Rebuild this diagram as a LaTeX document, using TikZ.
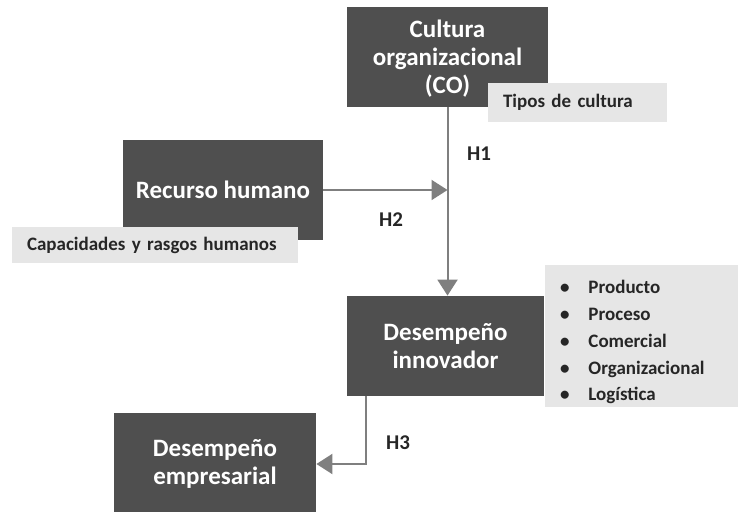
\documentclass[tikz,border=0pt]{standalone}
\usepackage{fontspec}
\setmainfont{Carlito}
\usetikzlibrary{arrows.meta}

\definecolor{boxdark}{HTML}{4F4F4F}
\definecolor{boxlight}{HTML}{E6E6E6}
\definecolor{linkgray}{HTML}{7F7F7F}
\definecolor{inkdark}{HTML}{262626}

\begin{document}
\begin{tikzpicture}[x=0.5pt,y=-0.5pt,
    darkbox/.style={fill=boxdark, text=white, font=\fontsize{12.5}{13.8}\selectfont\bfseries,
      align=center, inner sep=0pt},
    notebox/.style={fill=boxlight, text=inkdark, font=\fontsize{9.5}{11}\selectfont\bfseries,
      inner ysep=0pt, inner xsep=7.5pt, align=left},
    hlabel/.style={text=inkdark, font=\fontsize{10.5}{11}\selectfont\bfseries, inner sep=0pt},
    link/.style={draw=linkgray, line width=1pt, -{Triangle[width=10pt,length=8pt]}}]
  \useasboundingbox (0,0) rectangle (738,512);
  % constructs
  \node[darkbox, minimum width=100.5pt, minimum height=50pt] (co) at (447.5,57)
    {\raisebox{-1.5pt}[\height][\depth]{\begin{tabular}{@{}c@{}}Cultura\\organizacional\\(CO)\end{tabular}}};
  \node[darkbox, minimum width=100pt, minimum height=50pt] (rh) at (223,190)
    {Recurso humano};
  \node[darkbox, minimum width=98.5pt, minimum height=50pt] (innov) at (445.5,346)
    {Desempeño\\innovador};
  \node[darkbox, minimum width=101pt, minimum height=51pt] (emp) at (215,464)
    {Desempeño\\empresarial};
  % notes
  \node[notebox, text width=74.5pt, minimum height=19.5pt] (tipos) at (577.5,102.5)
    {Tipos de cultura};
  \node[notebox, text width=128pt, minimum height=18pt] (capac) at (155,245)
    {Capacidades y rasgos humanos};
  \node[notebox, text width=81.5pt, minimum height=71pt, font=\fontsize{9.5}{13.4}\selectfont\bfseries]
    (tipo) at (641.5,336)
    {\raisebox{-3pt}[\height][\depth]{\begin{tabular}{@{}l@{\hspace{9.5pt}}l@{}}
      \textbullet & Producto\\
      \textbullet & Proceso\\
      \textbullet & Comercial\\
      \textbullet & Organizacional\\
      \textbullet & Logística
    \end{tabular}}};
  % hypotheses
  \draw[link] (co.south) -- (co.south |- innov.north);
  \draw[link] (rh.east) -- (rh.east -| co.south);
  \draw[link] ([xshift=9.5pt]innov.south west) |- (emp.east);
  \node[hlabel] (h1) at (479,154) {H1};
  \node[hlabel] (h2) at (391,220) {H2};
  \node[hlabel] (h3) at (398,443) {H3};
\end{tikzpicture}
\end{document}
